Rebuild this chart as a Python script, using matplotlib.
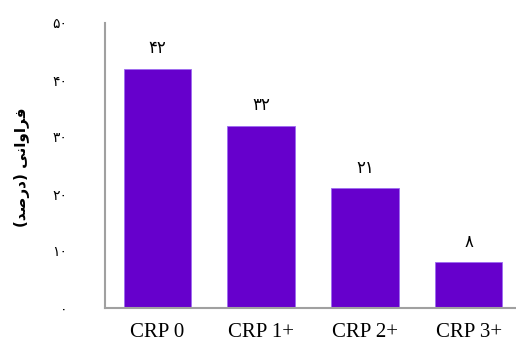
import matplotlib
matplotlib.use("Agg")
import matplotlib.pyplot as plt

categories = ["CRP 0", "CRP 1+", "CRP 2+", "CRP 3+"]
values = [42, 32, 21, 8]
yticks = [0, 10, 20, 30, 40, 50]

PERSIAN = "۰۱۲۳۴۵۶۷۸۹"
def fa(n):
    return "".join(PERSIAN[int(c)] for c in str(n))

# "فراوانی (درصد)" in presentation forms, visual order
ylabel = "(\uFEAA\uFEBB\uFEAD\uFEA9) \uFEF0\uFEE7\uFE8D\uFEED\uFE8D\uFEAE\uFED3"

fig = plt.figure(figsize=(5.16, 3.43), dpi=100)
ax = fig.add_axes([105/516, 35/343, 411/516, 285/343])
x = range(len(categories))
ax.bar(x, values, width=0.65, color="#6600CC", edgecolor="#9D6BF0", linewidth=0.6)
for xi, v in zip(x, values):
    ax.annotate(fa(v), (xi, v), xytext=(0, 8), textcoords="offset points",
                ha="center", va="bottom", fontsize=12, family=["DejaVu Sans"])
ax.set_xlim(-0.506, 3.457)
ax.set_ylim(0, 50)
ax.set_yticks(yticks)
ax.set_yticklabels([fa(t) for t in yticks], fontsize=10, family=["DejaVu Sans"])
ax.set_xticks(list(x))
ax.set_xticklabels(categories, fontsize=15, family=["Liberation Serif"])
ax.tick_params(axis="y", length=0, pad=27)
ax.tick_params(axis="x", length=0, pad=11)
for s in ["top", "right"]:
    ax.spines[s].set_visible(False)
for s in ["left", "bottom"]:
    ax.spines[s].set_color("#A0A0A0")
    ax.spines[s].set_linewidth(1.5)
fig.text(22/516, 1 - 167/343, ylabel, rotation=90, ha="center", va="center",
         fontsize=11, fontweight="bold", family=["DejaVu Sans"])
fig.savefig("out.png", dpi=100)
